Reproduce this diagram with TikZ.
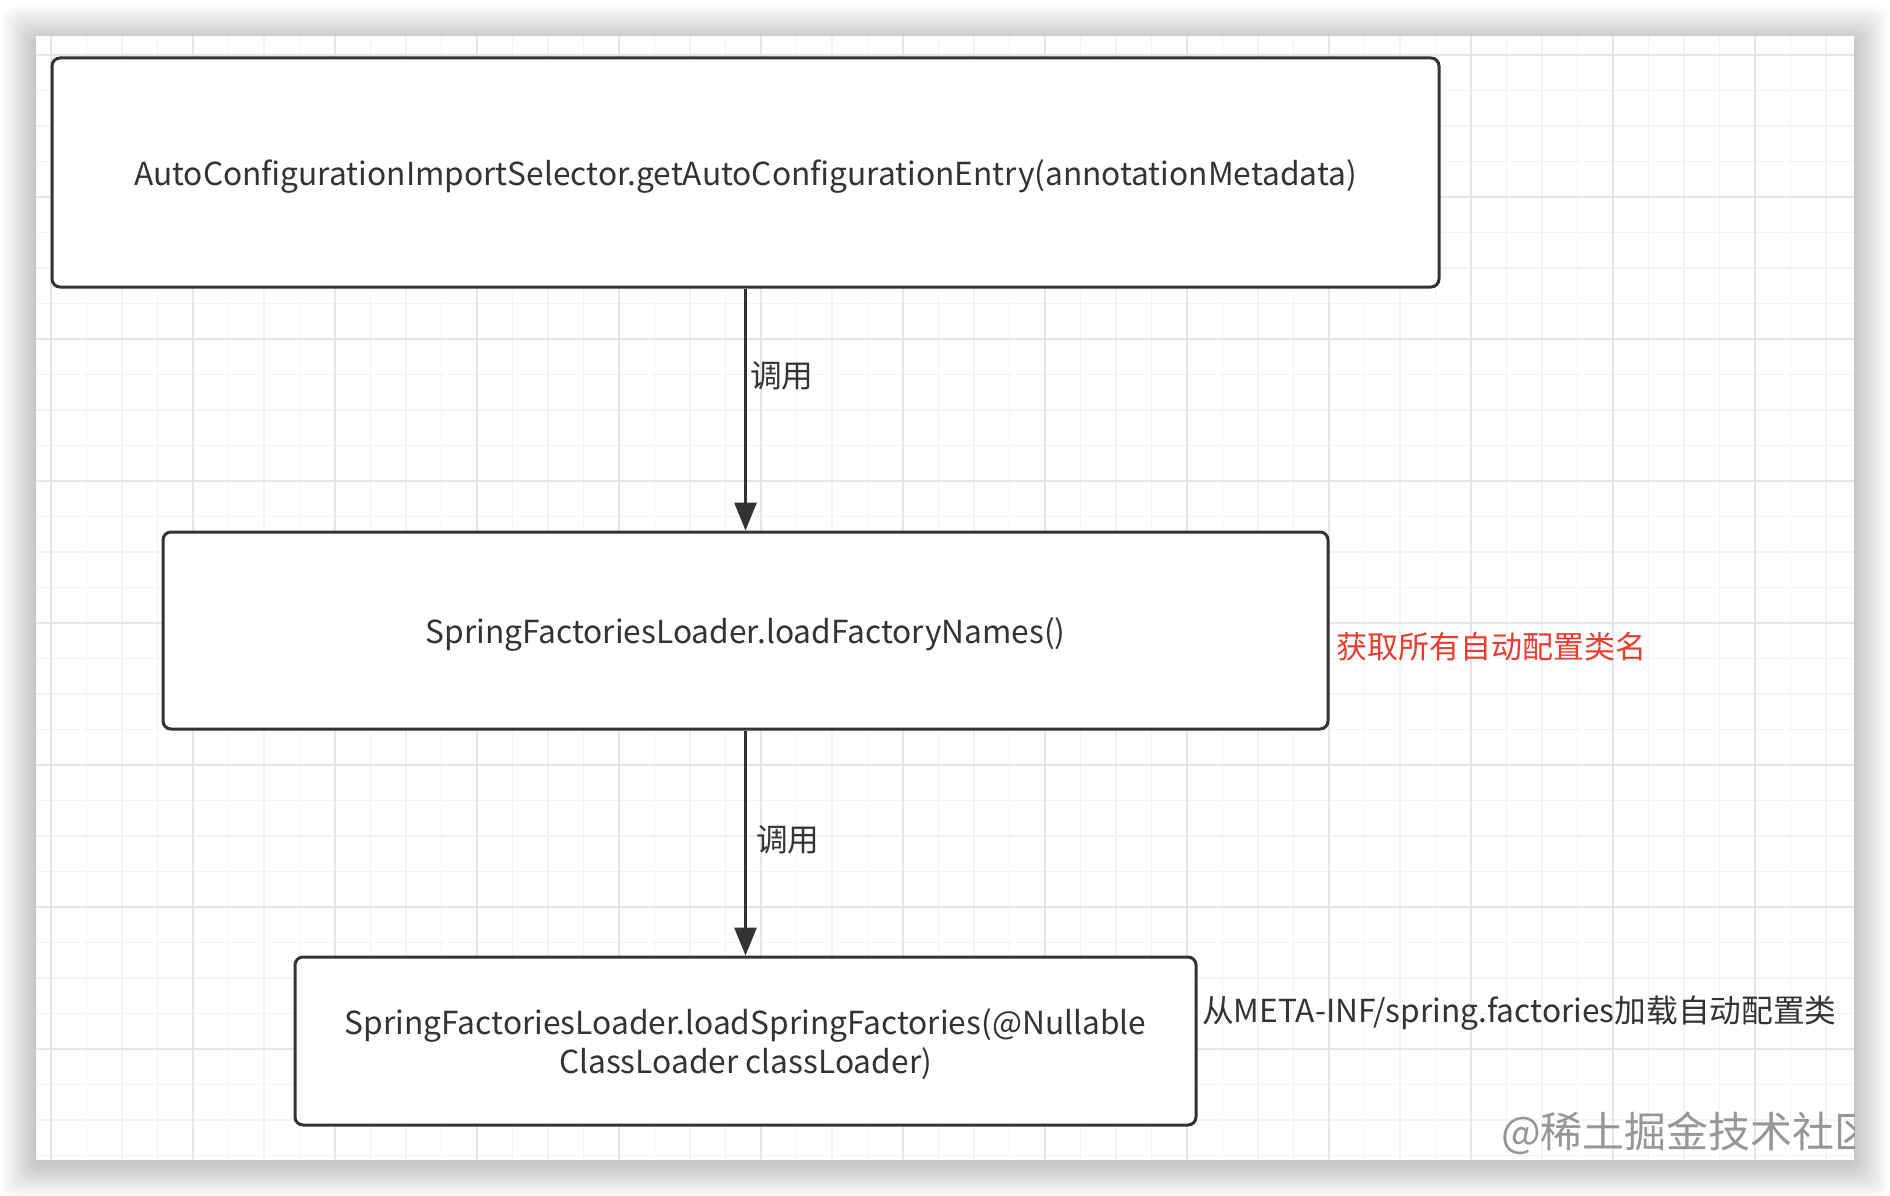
\documentclass[tikz,border=0pt]{standalone}
\usepackage{fontspec}
\setmainfont{Noto Sans CJK SC}
\usetikzlibrary{arrows.meta}
\definecolor{txt}{HTML}{333333}
\definecolor{edge}{HTML}{333333}
\definecolor{redtxt}{HTML}{EA3C2E}
\definecolor{gridminor}{HTML}{F3F3F3}
\definecolor{gridmajor}{HTML}{E6E6E6}
\definecolor{wmark}{HTML}{969696}
\tikzset{
  box/.style={draw=edge, line width=3pt, rounded corners=8pt, fill=white, align=center,
    inner sep=0pt, text=txt, text depth=0pt, font=\fontsize{31.7}{39}\selectfont},
  conn/.style={draw=edge, line width=3pt, -{Triangle[length=28pt,width=22pt]}},
  lbl/.style={text=txt, font=\fontsize{31.7}{36}\selectfont, inner sep=0pt, anchor=west},
  minorline/.style={draw=gridminor, line width=1.6pt},
  majorline/.style={draw=gridmajor, line width=1.6pt}
}
\begin{document}
\begin{tikzpicture}[x=1pt, y=-1pt]
\useasboundingbox (0,0) rectangle (1890,1196);
\fill[white] (0,0) rectangle (1890,1196);
% soft shadow around the canvas
\foreach \i in {1,...,14}{
  \fill[black, opacity=0.016, rounded corners=12pt] ({36-\i*2.4},{36-\i*2.4+4}) rectangle ({1854+\i*2.4},{1160+\i*2.4+4});
}
% canvas
\fill[white] (36,36) rectangle (1854,1160);
\begin{scope}
  \clip (36,36) rectangle (1854,1160);
  \foreach \k in {-1,...,51}{ \draw[minorline] ({51+35.5*\k},36) -- ++(0,1124); }
  \foreach \k in {-1,...,31}{ \draw[minorline] (36,{55+35.5*\k}) -- ++(1818,0); }
  \foreach \k in {0,4,...,48}{ \draw[majorline] ({51+35.5*\k},36) -- ++(0,1124); }
  \foreach \k in {0,4,...,28}{ \draw[majorline] (36,{55+35.5*\k}) -- ++(1818,0); }
  % watermark
  \node[text=wmark, font=\fontsize{42}{48}\selectfont, inner sep=0pt, anchor=west] (wm) at (1501,1133) {@稀土掘金技术社区};
\end{scope}

\node[box, minimum width=1387pt, minimum height=229pt] (b1) at (745.5,172.5)
  {AutoConfigurationImportSelector.getAutoConfigurationEntry(annotationMetadata)};
\node[box, minimum width=1165pt, minimum height=197pt] (b2) at (745.5,630.5)
  {SpringFactoriesLoader.loadFactoryNames()};
\node[box, minimum width=901pt, minimum height=168pt] (b3) at (745.5,1041)
  {SpringFactoriesLoader.loadSpringFactories(@Nullable\\ClassLoader classLoader)};

\draw[conn] (b1) -- node[lbl, pos=0.363, xshift=3pt] (l1) {调用} (b2);
\draw[conn] (b2) -- node[lbl, pos=0.487, xshift=9pt] (l2) {调用} (b3);

\node[lbl, text=redtxt, font=\fontsize{31}{36}\selectfont] (n1) at (1336,647) {获取所有自动配置类名};
\node[lbl] (n2) at (1202,1013) {从META-INF/spring.factories加载自动配置类};
\end{tikzpicture}
\end{document}
